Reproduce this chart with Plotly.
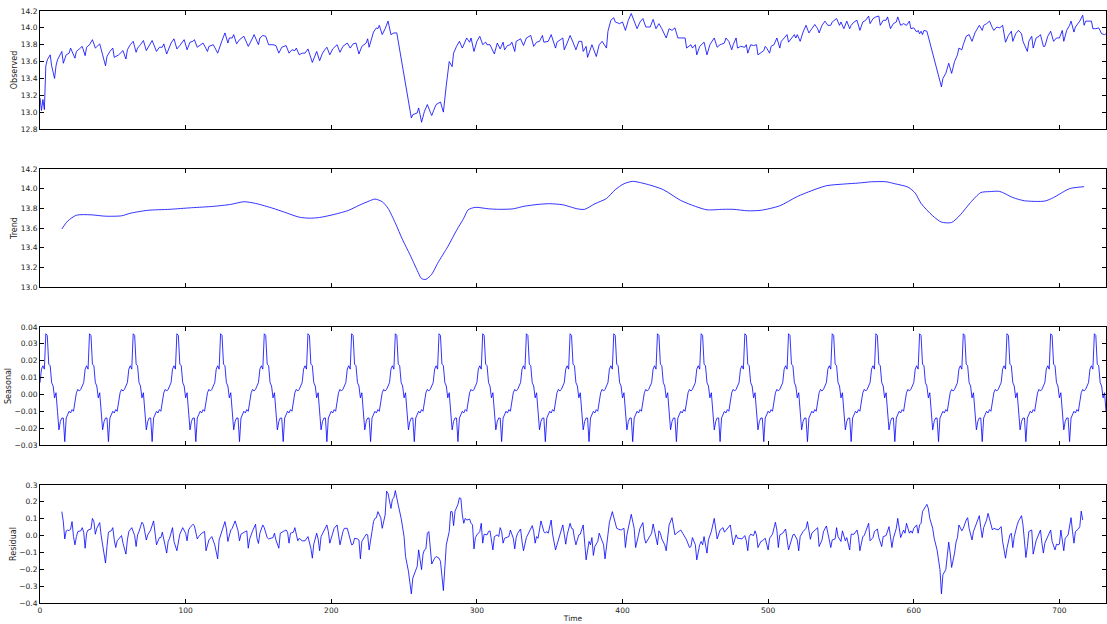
import plotly.graph_objects as go
from plotly.subplots import make_subplots

# ---------------- data ----------------
n_points = 733  # time index 0..732

obs_t = [0, 1, 2, 3, 4, 5, 7, 8, 10, 11, 12, 15, 16, 18, 20, 21, 24, 25, 27, 29, 31, 32, 34, 36, 38, 39, 41, 43, 45, 46,
         48, 50, 51, 54, 56, 57, 59, 60, 62, 64, 66, 67, 69, 71, 73, 75, 77, 80, 82, 84, 85, 87, 89, 90, 92, 94, 96, 98, 99,
         101, 103, 105, 106, 108, 111, 112, 115, 116, 119, 122, 125, 127, 129, 130, 132, 133, 135, 137, 140, 143, 146, 147,
         150, 151, 153, 155, 157, 160, 162, 164, 166, 169, 171, 173, 175, 176, 178, 180, 182, 184, 187, 189, 190, 192, 194,
         196, 197, 199, 201, 204, 206, 208, 211, 213, 215, 217, 219, 221, 224, 225, 226, 229, 231, 232, 233, 235, 236, 237,
         239, 240, 241, 243, 245, 255, 256, 259, 260, 261, 262, 264, 266, 268, 269, 271, 272, 275, 277, 279, 281, 283, 284,
         286, 288, 290, 292, 293, 295, 296, 298, 300, 302, 304, 306, 307, 309, 312, 314, 316, 318, 319, 321, 323, 324, 326,
         327, 330, 332, 334, 337, 339, 341, 343, 345, 346, 349, 351, 354, 355, 359, 360, 362, 364, 366, 368, 370, 372, 373,
         375, 376, 378, 379, 382, 384, 386, 389, 390, 392, 394, 395, 398, 400, 402, 404, 406, 408, 410, 412, 414, 416, 419,
         421, 423, 425, 427, 430, 432, 434, 436, 438, 442, 443, 444, 447, 448, 450, 451, 453, 456, 458, 460, 463, 465, 467,
         470, 471, 473, 475, 476, 478, 479, 481, 484, 485, 486, 488, 490, 492, 493, 495, 497, 498, 499, 501, 502, 504, 506,
         508, 509, 511, 513, 514, 516, 518, 519, 520, 522, 524, 526, 528, 530, 532, 534, 535, 537, 539, 541, 543, 544, 547,
         549, 550, 552, 554, 556, 557, 559, 561, 563, 565, 567, 569, 570, 572, 574, 576, 577, 579, 581, 582, 584, 586, 588,
         589, 591, 593, 595, 597, 598, 600, 602, 603, 604, 605, 606, 607, 609, 619, 620, 622, 624, 626, 628, 630, 631, 633,
         634, 636, 638, 640, 642, 644, 645, 647, 648, 650, 652, 654, 655, 657, 659, 661, 662, 663, 665, 667, 668, 670, 672,
         674, 675, 678, 679, 681, 682, 684, 686, 687, 689, 690, 692, 694, 696, 698, 700, 702, 703, 705, 707, 708, 710, 711,
         714, 716, 717, 718, 722, 723, 725, 727, 729, 731, 732]
obs_v = [13.17, 13.02, 13.15, 13.03, 13.55, 13.62, 13.68, 13.55, 13.40, 13.55, 13.62, 13.72, 13.58, 13.68, 13.70, 13.76,
         13.64, 13.72, 13.75, 13.78, 13.67, 13.77, 13.80, 13.86, 13.76, 13.78, 13.81, 13.68, 13.55, 13.66, 13.72, 13.76,
         13.65, 13.68, 13.72, 13.73, 13.63, 13.74, 13.80, 13.84, 13.71, 13.76, 13.80, 13.85, 13.73, 13.80, 13.85, 13.72,
         13.77, 13.77, 13.81, 13.69, 13.77, 13.82, 13.87, 13.75, 13.79, 13.84, 13.86, 13.74, 13.83, 13.84, 13.86, 13.77,
         13.80, 13.82, 13.72, 13.78, 13.80, 13.70, 13.85, 13.94, 13.82, 13.88, 13.88, 13.92, 13.81, 13.86, 13.90, 13.78,
         13.88, 13.92, 13.80, 13.88, 13.91, 13.90, 13.80, 13.80, 13.79, 13.70, 13.77, 13.79, 13.70, 13.74, 13.73, 13.76,
         13.68, 13.70, 13.70, 13.75, 13.59, 13.68, 13.72, 13.61, 13.70, 13.75, 13.77, 13.68, 13.75, 13.80, 13.71, 13.78,
         13.82, 13.76, 13.81, 13.82, 13.69, 13.78, 13.82, 13.87, 13.77, 13.95, 14.00, 13.99, 14.03, 13.92, 13.95, 13.99,
         14.08, 14.01, 13.92, 13.94, 13.94, 12.93, 12.97, 12.99, 13.05, 12.97, 12.88, 13.01, 13.09, 13.00, 12.96, 13.05,
         13.09, 13.12, 13.00, 13.32, 13.60, 13.54, 13.70, 13.78, 13.84, 13.76, 13.84, 13.88, 13.83, 13.88, 13.72, 13.84,
         13.90, 13.80, 13.83, 13.80, 13.80, 13.69, 13.82, 13.75, 13.83, 13.74, 13.79, 13.80, 13.83, 13.72, 13.84, 13.87,
         13.79, 13.88, 13.91, 13.78, 13.83, 13.84, 13.91, 13.83, 13.84, 13.92, 13.76, 13.83, 13.88, 13.74, 13.82, 13.91,
         13.83, 13.74, 13.84, 13.84, 13.72, 13.78, 13.65, 13.76, 13.80, 13.66, 13.80, 13.84, 13.76, 13.96, 14.09, 14.12,
         14.07, 14.05, 14.07, 13.97, 14.09, 14.17, 14.09, 13.99, 14.07, 14.11, 14.01, 14.01, 14.10, 13.99, 14.05, 13.99,
         13.88, 13.99, 13.97, 14.00, 13.88, 13.88, 13.88, 13.76, 13.80, 13.76, 13.80, 13.68, 13.78, 13.83, 13.68, 13.80,
         13.88, 13.77, 13.80, 13.82, 13.88, 13.84, 13.74, 13.80, 13.88, 13.76, 13.78, 13.77, 13.80, 13.70, 13.80, 13.79,
         13.80, 13.68, 13.70, 13.73, 13.78, 13.76, 13.70, 13.78, 13.80, 13.88, 13.76, 13.84, 13.88, 13.92, 13.83, 13.88,
         13.92, 13.88, 13.92, 13.84, 13.95, 14.03, 13.94, 13.99, 14.04, 13.99, 13.94, 14.03, 14.08, 14.03, 14.03, 14.07,
         14.11, 14.03, 14.07, 13.99, 14.08, 13.99, 14.03, 14.07, 14.09, 13.97, 14.07, 14.09, 14.14, 14.05, 14.11, 14.13,
         14.14, 14.03, 14.09, 14.09, 14.13, 13.99, 14.05, 14.07, 14.13, 14.03, 14.05, 14.03, 14.08, 13.99, 14.00, 13.95,
         13.97, 13.93, 13.96, 13.92, 13.97, 13.96, 13.30, 13.40, 13.46, 13.58, 13.46, 13.60, 13.68, 13.76, 13.74, 13.80,
         13.90, 13.92, 13.84, 13.94, 13.99, 14.03, 13.97, 14.03, 14.05, 14.08, 14.00, 13.97, 14.01, 14.00, 14.03, 13.93,
         13.83, 13.91, 13.96, 13.84, 13.93, 13.97, 13.93, 13.84, 13.72, 13.84, 13.90, 13.76, 13.88, 13.90, 13.92, 13.78,
         13.78, 13.90, 13.96, 13.84, 13.88, 13.88, 13.97, 13.84, 13.97, 14.03, 14.08, 13.95, 14.01, 14.08, 14.15, 14.03,
         14.08, 14.08, 13.99, 13.99, 14.00, 13.93, 13.92, 13.93]

trend_t = [15, 19, 25, 35, 45, 56, 62, 74, 89, 104, 119, 131, 140, 148, 160, 168, 178, 185, 192, 202, 212, 219, 226, 230,
           235, 239, 244, 249, 254, 259, 262, 265, 269, 273, 280, 286, 291, 294, 299, 308, 315, 325, 332, 342, 350, 359,
           369, 374, 381, 389, 395, 401, 407, 418, 428, 440, 450, 458, 469, 476, 486, 495, 508, 520, 530, 540, 552, 562,
           571, 581, 587, 596, 601, 605, 613, 619, 626, 632, 639, 646, 652, 659, 668, 676, 690, 696, 707, 717]
trend_v = [13.59, 13.67, 13.73, 13.734, 13.72, 13.724, 13.75, 13.78, 13.79, 13.806, 13.82, 13.84, 13.867, 13.85, 13.80,
           13.76, 13.71, 13.70, 13.707, 13.738, 13.78, 13.83, 13.874, 13.894, 13.867, 13.80, 13.65, 13.48, 13.33, 13.17,
           13.085, 13.078, 13.13, 13.24, 13.41, 13.575, 13.70, 13.785, 13.81, 13.795, 13.79, 13.795, 13.82, 13.84, 13.847,
           13.836, 13.795, 13.79, 13.846, 13.90, 13.99, 14.05, 14.074, 14.04, 13.99, 13.88, 13.82, 13.785, 13.79, 13.79,
           13.775, 13.78, 13.826, 13.92, 13.98, 14.03, 14.047, 14.057, 14.07, 14.07, 14.05, 14.016, 13.955, 13.85, 13.724,
           13.66, 13.656, 13.734, 13.86, 13.96, 13.97, 13.972, 13.91, 13.877, 13.874, 13.91, 14.00, 14.02]

# one 30-step period of the seasonal component (it repeats through the series)
seasonal_period = [0.007, 0.015, 0.017, 0.015, 0.036, 0.035, 0.018, 0.017, 0.007, 0.005,
                   -0.002, 0.001, -0.010, -0.021, -0.016, -0.014, -0.014, -0.028, -0.014, -0.012,
                   -0.010, -0.011, -0.009, -0.010, -0.005, 0.001, 0.003, 0.002, 0.003, 0.005]

resid_t = [15, 16, 17, 18, 19, 20, 21, 22, 23, 24, 25, 26, 28, 29, 30, 31, 32, 33, 35, 36, 37, 38, 39, 41, 42, 43, 45, 46,
           47, 49, 50, 51, 52, 53, 55, 56, 57, 59, 60, 61, 63, 65, 66, 67, 68, 70, 71, 73, 74, 76, 78, 79, 80, 82, 83, 84,
           86, 87, 88, 89, 91, 92, 94, 95, 96, 98, 100, 101, 102, 103, 105, 106, 108, 109, 111, 113, 114, 116, 118, 120,
           122, 123, 125, 127, 128, 129, 131, 132, 134, 136, 137, 138, 141, 142, 143, 144, 146, 148, 149, 150, 151, 153,
           154, 156, 157, 159, 160, 161, 162, 164, 165, 167, 169, 170, 171, 172, 174, 175, 177, 178, 180, 182, 184, 186,
           187, 188, 190, 191, 192, 193, 195, 197, 198, 199, 201, 202, 204, 205, 206, 208, 209, 211, 213, 214, 215, 216,
           218, 219, 220, 221, 223, 224, 225, 226, 228, 229, 230, 231, 232, 234, 235, 236, 237, 238, 239, 241, 242, 243,
           244, 246, 248, 250, 251, 253, 254, 255, 256, 258, 259, 260, 261, 262, 263, 264, 265, 266, 267, 268, 269, 271,
           272, 274, 275, 277, 278, 279, 281, 282, 283, 284, 285, 287, 288, 289, 290, 291, 292, 293, 295, 296, 297, 298,
           299, 300, 302, 303, 304, 305, 307, 308, 309, 311, 312, 314, 315, 316, 317, 318, 319, 320, 322, 323, 325, 326,
           327, 328, 330, 331, 332, 334, 335, 338, 339, 340, 341, 342, 344, 346, 347, 348, 349, 351, 352, 354, 355, 357,
           359, 360, 361, 362, 364, 365, 366, 367, 368, 370, 371, 373, 374, 375, 377, 378, 379, 380, 381, 383, 384, 386,
           387, 388, 390, 391, 393, 395, 396, 397, 399, 401, 402, 403, 405, 406, 408, 409, 411, 412, 414, 415, 416, 418,
           420, 421, 423, 424, 425, 426, 427, 429, 430, 431, 432, 434, 436, 437, 439, 440, 442, 443, 444, 446, 447, 448,
           450, 451, 453, 454, 455, 456, 458, 459, 461, 463, 464, 465, 467, 469, 470, 472, 474, 475, 476, 478, 479, 480,
           482, 484, 485, 486, 487, 488, 490, 491, 492, 493, 495, 496, 498, 500, 501, 503, 505, 506, 507, 508, 510, 512,
           513, 514, 516, 517, 518, 520, 521, 522, 524, 526, 527, 529, 530, 532, 534, 535, 537, 538, 540, 542, 543, 544,
           546, 547, 548, 550, 551, 553, 554, 556, 557, 559, 561, 562, 563, 565, 566, 569, 570, 572, 573, 575, 576, 578,
           579, 581, 583, 584, 585, 586, 588, 589, 591, 593, 594, 595, 597, 598, 599, 600, 602, 603, 604, 605, 606, 608,
           609, 610, 611, 613, 614, 616, 618, 619, 620, 622, 623, 624, 625, 626, 628, 629, 630, 631, 633, 634, 636, 637,
           638, 640, 641, 643, 645, 646, 647, 648, 650, 651, 652, 654, 655, 657, 658, 660, 661, 663, 664, 666, 667, 668,
           669, 671, 672, 674, 675, 676, 677, 678, 679, 681, 682, 684, 685, 687, 688, 689, 690, 692, 694, 695, 697, 698,
           699, 700, 701, 703, 704, 706, 707, 708, 709, 710, 711, 713, 714, 715, 716]
resid_v = [0.142, 0.083, -0.020, 0.028, 0.033, 0.029, 0.039, 0.083, -0.006, -0.055, -0.006, 0.024, 0.028, 0.047, 0.020,
           -0.075, 0.014, 0.033, 0.039, 0.102, 0.083, 0.008, 0.043, 0.077, 0.0, -0.055, -0.163, -0.065, 0.020, 0.029,
           0.047, -0.026, -0.071, -0.031, -0.012, 0.0, -0.045, -0.110, -0.026, 0.024, 0.047, 0.0, -0.065, 0.004, 0.024,
           0.079, 0.067, -0.026, 0.004, 0.033, 0.087, 0.020, -0.055, -0.012, -0.012, 0.020, -0.055, -0.104, -0.035,
           -0.016, 0.047, -0.035, -0.090, -0.026, 0.008, 0.047, 0.014, -0.031, 0.033, 0.047, 0.067, 0.059, -0.020,
           -0.006, 0.014, 0.024, -0.090, -0.026, -0.006, -0.055, -0.138, -0.026, 0.024, 0.083, 0.039, -0.035, 0.033,
           0.043, 0.087, 0.028, -0.031, 0.008, 0.024, 0.028, -0.075, -0.020, 0.028, 0.067, -0.016, -0.047, 0.014, 0.063,
           0.047, -0.012, -0.020, -0.016, -0.012, 0.014, -0.026, -0.075, 0.014, 0.024, 0.033, 0.020, -0.045, 0.014,
           0.020, 0.047, -0.031, -0.016, -0.031, -0.031, -0.006, -0.075, -0.134, -0.051, 0.014, -0.020, -0.090, -0.006,
           0.033, 0.063, 0.024, -0.045, 0.014, 0.043, 0.063, 0.004, -0.055, 0.024, 0.043, 0.043, -0.031, -0.055, -0.051,
           -0.016, -0.020, -0.026, -0.138, -0.035, -0.006, 0.008, 0.004, -0.085, 0.024, 0.083, 0.102, 0.106, 0.142,
           0.106, 0.043, 0.083, 0.122, 0.263, 0.250, 0.161, 0.216, 0.224, 0.267, 0.181, 0.102, -0.006, -0.124, -0.212,
           -0.281, -0.346, -0.252, -0.212, -0.183, -0.085, -0.153, -0.202, -0.110, -0.085, -0.079, 0.014, 0.024, -0.065,
           -0.169, -0.134, -0.124, -0.134, -0.153, -0.326, -0.177, -0.055, 0.024, 0.142, 0.142, 0.059, 0.145, 0.185,
           0.224, 0.220, 0.122, 0.073, 0.102, 0.092, 0.098, 0.073, 0.063, -0.079, -0.012, 0.004, 0.024, 0.073, -0.045,
           0.008, 0.004, 0.024, 0.028, -0.085, -0.006, 0.004, -0.006, 0.047, 0.024, -0.045, -0.016, -0.012, -0.006,
           0.033, -0.016, -0.079, -0.012, 0.014, 0.039, -0.035, -0.090, -0.012, 0.008, 0.059, 0.024, -0.045, -0.006,
           -0.016, 0.087, 0.024, 0.014, 0.024, 0.014, 0.092, 0.008, -0.085, -0.055, 0.004, 0.063, 0.008, -0.051, 0.004,
           0.073, 0.043, 0.039, -0.016, -0.055, 0.004, 0.008, 0.063, -0.045, -0.144, -0.035, -0.055, -0.012, -0.118,
           -0.065, -0.035, 0.014, -0.035, -0.055, -0.138, 0.014, 0.079, 0.142, 0.073, 0.043, 0.039, 0.033, 0.043, -0.071,
           0.004, 0.083, 0.126, 0.043, -0.071, 0.004, 0.043, 0.077, -0.012, -0.045, -0.016, 0.014, 0.069, -0.016,
           -0.055, 0.028, 0.014, -0.020, -0.055, -0.090, -0.006, 0.063, 0.106, 0.004, 0.014, 0.024, 0.033, 0.004,
           -0.012, -0.026, -0.071, -0.065, -0.012, -0.055, -0.144, -0.055, -0.035, -0.055, -0.006, -0.104, -0.026,
           0.024, 0.102, 0.043, -0.020, 0.033, 0.047, 0.020, 0.043, 0.063, 0.004, -0.055, 0.004, -0.016, -0.016, -0.020,
           0.0, -0.031, -0.090, -0.006, 0.008, 0.0, 0.028, 0.004, -0.071, -0.035, -0.031, -0.016, -0.085, -0.016, 0.008,
           0.079, 0.033, -0.071, 0.004, 0.014, 0.039, -0.016, -0.085, -0.026, 0.004, 0.008, -0.026, -0.090, -0.006,
           0.024, 0.043, 0.083, -0.022, 0.014, 0.033, 0.047, -0.065, -0.026, 0.024, 0.057, -0.026, -0.071, -0.026,
           -0.020, 0.047, -0.006, -0.035, 0.028, -0.031, -0.012, -0.085, 0.008, 0.008, 0.033, -0.006, -0.090, -0.006,
           0.0, 0.073, -0.031, -0.012, 0.024, 0.039, -0.012, -0.065, -0.006, 0.0, 0.053, -0.006, -0.071, -0.016, 0.043,
           0.102, -0.012, 0.033, 0.014, 0.073, 0.014, 0.028, 0.014, 0.043, 0.063, 0.014, 0.063, 0.073, 0.142, 0.171,
           0.185, 0.161, 0.102, 0.043, -0.016, -0.085, -0.202, -0.346, -0.232, -0.202, -0.134, -0.039, -0.104, -0.189,
           -0.104, -0.039, -0.012, 0.063, 0.028, 0.043, 0.092, 0.106, 0.043, -0.026, 0.024, 0.073, 0.118, 0.047, -0.012,
           0.047, 0.092, 0.132, 0.092, 0.033, 0.043, 0.033, 0.033, 0.053, -0.035, -0.134, -0.075, 0.004, 0.014, -0.071,
           -0.006, 0.063, 0.087, 0.118, 0.063, -0.031, -0.130, -0.065, 0.024, 0.033, -0.110, -0.031, -0.006, 0.033,
           -0.045, -0.104, -0.045, -0.006, 0.033, -0.035, -0.085, -0.051, -0.055, -0.051, 0.033, -0.090, -0.016, 0.004,
           0.047, 0.106, 0.024, -0.045, 0.024, 0.039, 0.053, 0.145, 0.092]

# tick labels of each panel
x_ticks = [0, 100, 200, 300, 400, 500, 600, 700]
obs_ticks = [12.8, 13.0, 13.2, 13.4, 13.6, 13.8, 14.0, 14.2]
trend_ticks = [13.0, 13.2, 13.4, 13.6, 13.8, 14.0, 14.2]
seas_ticks = [-0.03, -0.02, -0.01, 0.00, 0.01, 0.02, 0.03, 0.04]
resid_ticks = [-0.4, -0.3, -0.2, -0.1, 0.0, 0.1, 0.2, 0.3]

seasonal_t = list(range(n_points))
seasonal_v = [seasonal_period[i % len(seasonal_period)] for i in seasonal_t]

# ---------------- figure ----------------
BLUE = "#0000ff"
LW = 0.8
fig = make_subplots(rows=4, cols=1, shared_xaxes=True, vertical_spacing=40 / 592)

fig.add_trace(go.Scatter(x=obs_t, y=obs_v, mode="lines", line=dict(color=BLUE, width=LW)), row=1, col=1)
fig.add_trace(go.Scatter(x=trend_t, y=trend_v, mode="lines",
                         line=dict(color=BLUE, width=LW, shape="spline", smoothing=0.7)), row=2, col=1)
fig.add_trace(go.Scatter(x=seasonal_t, y=seasonal_v, mode="lines", line=dict(color=BLUE, width=LW)), row=3, col=1)
fig.add_trace(go.Scatter(x=resid_t, y=resid_v, mode="lines", line=dict(color=BLUE, width=LW)), row=4, col=1)

TXT = "#222222"
tick_font = dict(family="DejaVu Sans", size=7.5, color=TXT)
axis_common = dict(showline=True, linecolor="black", linewidth=1, mirror="ticks", ticks="inside",
                   ticklen=4, tickcolor="black", tickwidth=0.8, showgrid=False, zeroline=False,
                   tickfont=tick_font)

for r in range(1, 5):
    fig.update_xaxes(range=[0, n_points - 1], tickmode="array", tickvals=x_ticks,
                     ticktext=[str(v) for v in x_ticks], row=r, col=1, **axis_common)

fig.update_xaxes(title=dict(text="Time", font=dict(family="DejaVu Sans", size=7.5, color=TXT), standoff=1),
                 row=4, col=1)

ylab_font = dict(family="DejaVu Sans", size=8, color=TXT)


def ylabels(vals, fmt):
    return [(fmt % v).replace("-", "\u2212") for v in vals]


fig.update_yaxes(range=[12.8, 14.2], tickmode="array", tickvals=obs_ticks, ticktext=ylabels(obs_ticks, "%.1f"),
                 title=dict(text="Observed", font=ylab_font, standoff=1), row=1, col=1, **axis_common)
fig.update_yaxes(range=[13.0, 14.2], tickmode="array", tickvals=trend_ticks, ticktext=ylabels(trend_ticks, "%.1f"),
                 title=dict(text="Trend", font=ylab_font, standoff=1), row=2, col=1, **axis_common)
fig.update_yaxes(range=[-0.03, 0.04], tickmode="array", tickvals=seas_ticks, ticktext=ylabels(seas_ticks, "%.2f"),
                 title=dict(text="Seasonal", font=ylab_font, standoff=1), row=3, col=1, **axis_common)
fig.update_yaxes(range=[-0.4, 0.3], tickmode="array", tickvals=resid_ticks, ticktext=ylabels(resid_ticks, "%.1f"),
                 title=dict(text="Residual", font=ylab_font, standoff=1), row=4, col=1, **axis_common)

fig.update_layout(width=1107, height=624, margin=dict(l=40, r=1, t=11, b=21, autoexpand=False),
                  paper_bgcolor="white", plot_bgcolor="white", showlegend=False,
                  font=dict(family="DejaVu Sans", size=7.5))

# remove the browser's default page margin so the figure sits at the window's top-left corner
fig.write_html("out.html", config={"displayModeBar": False},
               post_script="document.body.style.margin='0';document.body.style.overflow='hidden';")
